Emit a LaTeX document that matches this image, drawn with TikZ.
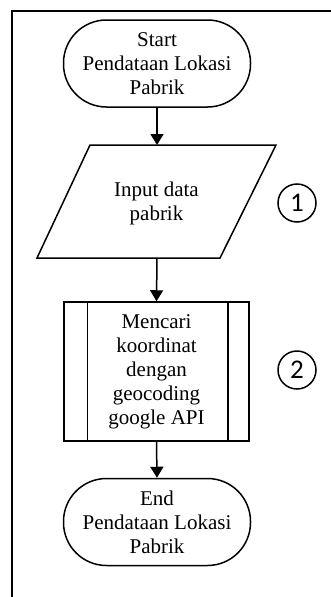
\documentclass[tikz,border=0pt]{standalone}
\usepackage{fontspec}
\setmainfont{Liberation Serif}
\newfontfamily\numfont{Carlito}
\usetikzlibrary{arrows.meta}

\tikzset{
  label/.style={align=center, font=\fontsize{21}{24}\selectfont, inner sep=0pt},
  box/.style={label, draw, line width=1.5pt},
  terminal/.style={box, rectangle, rounded corners=43pt, minimum width=187pt, minimum height=87pt},
  subproc/.style={box, rectangle, minimum width=185pt, minimum height=139pt},
  stepno/.style={draw, circle, line width=1.5pt, minimum size=38pt, inner sep=0pt, font=\numfont\fontsize{27}{27}\selectfont},
  flow/.style={line width=1.5pt, -{Triangle[length=11pt,width=13pt]}}
}

\begin{document}
\begin{tikzpicture}[x=1pt, y=-1pt]

    \useasboundingbox (0,0) rectangle (331,597);

    % frame round the chart
    \draw[line width=2pt] (12,597) -- (12,11) -- (331,11);

    \node[terminal] (start) at (157,63.5) {Start\\Pendataan Lokasi\\Pabrik};

    % input parallelogram
    \draw[line width=1.5pt, line join=miter] (90,145) -- (276,145) -- (220,258) -- (37,258) -- cycle;
    \node[label] (input) at (156.5,203) {Input data\\pabrik};
    \coordinate (inputtop) at (157,145);
    \coordinate (inputbot) at (157,258);

    \node[subproc] (cari) at (156.5,371.5) {Mencari\\koordinat\\dengan\\geocoding\\google API};
    \draw[line width=1.5pt] ([xshift=24pt]cari.north west) -- ([xshift=24pt]cari.south west);
    \draw[line width=1.5pt] ([xshift=-22pt]cari.north east) -- ([xshift=-22pt]cari.south east);
    \node[terminal] (end) at (157,522) {End\\Pendataan Lokasi\\Pabrik};

    % step numbers
    \node[stepno] (satu) at (297,203) {1};
    \node[stepno] (dua) at (297,370) {2};

    \draw[flow] (start.south) -- (inputtop);
    \draw[flow] (inputbot) -- (cari.north);
    \draw[flow] (cari.south) -- (end.north);

\end{tikzpicture}
\end{document}
